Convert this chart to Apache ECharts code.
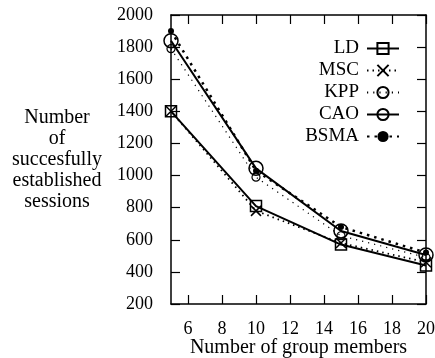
<!DOCTYPE html>
<html><head><meta charset="utf-8">
<script src="https://cdn.jsdelivr.net/npm/echarts@6/dist/echarts.min.js"></script>
<style>html,body{margin:0;padding:0;background:#fff}#c{width:435px;height:358px}</style>
</head><body><div id="c"></div>
<script>
const groupMembers = [5, 10, 15, 20];
const seriesNames = ['LD', 'MSC', 'KPP', 'CAO', 'BSMA'];
const ldValues   = [1400, 810, 570, 440];
const mscValues  = [1400, 780, 580, 460];
const kppValues  = [1790, 990, 625, 490];
const caoValues  = [1840, 1045, 655, 505];
const bsmaValues = [1900, 1030, 680, 520];
const xTickValues = [6, 8, 10, 12, 14, 16, 18, 20];
const yTitleLines = ['Number', 'of', 'succesfully', 'established', 'sessions'];
const xTitle = 'Number of group members';

const FONT = 'Liberation Serif';
const pair = (vals) => groupMembers.map((x, i) => [x, vals[i]]);

const chart = echarts.init(document.getElementById('c'), null, {renderer: 'canvas'});
const axisCommon = {
  axisLine: {show: true, onZero: false, lineStyle: {color: '#000', width: 1.5}},
  splitLine: {show: false}
};
const tickStyle = {show: true, inside: true, length: 9, lineStyle: {color: '#000', width: 1.2}};
const xBase = {type: 'value', min: 5, max: 20,
  axisTick: Object.assign({customValues: xTickValues}, tickStyle)};
const yBase = {type: 'value', min: 200, max: 2000, interval: 200, axisTick: tickStyle};

chart.setOption({
  animation: false,
  backgroundColor: '#fff',
  grid: {left: 171, right: 9, top: 15, bottom: 54, containLabel: false, outerBoundsMode: 'none'},
  legend: {
    data: seriesNames,
    orient: 'vertical',
    right: 30,
    top: 34,
    align: 'right',
    itemWidth: 32,
    itemHeight: 14,
    itemGap: 3,
    textStyle: {fontFamily: FONT, fontSize: 19, color: '#000', padding: [0, 3, 0, 0]}
  },
  xAxis: [
    Object.assign({}, xBase, axisCommon, {
      position: 'bottom',
      name: xTitle, nameLocation: 'middle', nameGap: 34, nameMoveOverlap: false,
      nameTextStyle: {fontFamily: FONT, fontSize: 20, color: '#000'},
      axisLabel: {fontFamily: FONT, fontSize: 18, color: '#000', margin: 16, customValues: xTickValues}
    }),
    Object.assign({}, xBase, axisCommon, {position: 'top', axisLabel: {show: false}})
  ],
  yAxis: [
    Object.assign({}, yBase, axisCommon, {
      position: 'left',
      axisLabel: {fontFamily: FONT, fontSize: 18, color: '#000', margin: 18, formatter: (v) => String(v)}
    }),
    Object.assign({}, yBase, axisCommon, {position: 'right', axisLabel: {show: false}})
  ],
  graphic: [{
    type: 'text', x: 57, y: 107,
    style: {text: yTitleLines.join('\n'), fontFamily: FONT, fontSize: 20, lineHeight: 21,
      fill: '#000', align: 'center', verticalAlign: 'top'}
  }],
  series: [
    {name: 'LD', type: 'line', data: pair(ldValues), symbol: 'rect', symbolSize: 11,
      lineStyle: {color: '#000', width: 2}, itemStyle: {color: 'rgba(0,0,0,0)', borderColor: '#000', borderWidth: 1.5}},
    {name: 'MSC', type: 'line', data: pair(mscValues), symbol: 'path://M0,0L10,10M0,10L10,0', symbolSize: 10,
      lineStyle: {color: '#000', width: 1.8, type: [1.5, 4]}, itemStyle: {color: 'rgba(0,0,0,0)', borderColor: '#000', borderWidth: 1.5}},
    {name: 'KPP', type: 'line', data: pair(kppValues), symbol: 'circle', symbolSize: 8,
      lineStyle: {color: '#000', width: 1.2, type: [1.2, 5]}, itemStyle: {color: 'rgba(0,0,0,0)', borderColor: '#000', borderWidth: 1.2}},
    {name: 'CAO', type: 'line', data: pair(caoValues), symbol: 'circle', symbolSize: 14,
      lineStyle: {color: '#000', width: 2}, itemStyle: {color: 'rgba(0,0,0,0)', borderColor: '#000', borderWidth: 1.5}},
    {name: 'BSMA', type: 'line', data: pair(bsmaValues), symbol: 'circle', symbolSize: 6,
      lineStyle: {color: '#000', width: 2.5, type: [2.5, 5]}, itemStyle: {color: '#000'}}
  ]
});
</script></body></html>
